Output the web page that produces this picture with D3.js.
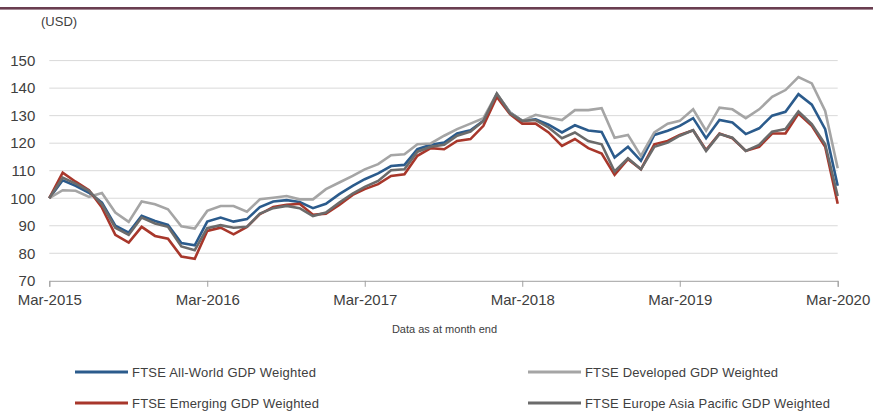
<!DOCTYPE html>
<html>
<head>
<meta charset="utf-8">
<script src="https://cdn.jsdelivr.net/npm/d3@7"></script>
<style>
  body { margin: 0; background: #fff; font-family: "Liberation Sans", Arial, sans-serif; }
  svg text { fill: #404040; }
</style>
</head>
<body>
<div id="chart"></div>
<script>
// monthly index values, Mar-2015 .. Mar-2020 (61 points)
const startMonth = new Date(2015, 2, 1), endMonth = new Date(2020, 2, 1);
const months = d3.timeMonth.range(startMonth, d3.timeMonth.offset(endMonth, 1));

const allWorld = [100, 106.5, 104.5, 102, 98.4, 90, 87.5, 93.6, 91.7, 90.3,
  83.7, 82.9, 91.5, 93, 91.5, 92.4, 96.8, 98.8, 99.3, 98.6,
  96.4, 98, 101.5, 104.5, 106.9, 109, 111.7, 112.1, 117.8, 119.4,
  120.2, 123.5, 124.7, 128.1, 137.8, 131.1, 128.1, 128.7, 126.7, 123.9,
  126.5, 124.6, 124.1, 114.8, 118.7, 113.6, 123, 124.5, 126.3, 129.1,
  121.8, 128.4, 127.5, 123.3, 125.4, 130, 131.4, 137.8, 134, 125.1, 104.5];

const developed = [100, 102.9, 102.7, 100.5, 101.9, 94.8, 91.4, 98.8, 97.8, 96,
  89.8, 89, 95.4, 97.2, 97.2, 95.1, 99.6, 100.2, 100.8, 99.6,
  99.6, 103.3, 105.7, 108.1, 110.5, 112.4, 115.6, 116, 119.6, 119.9,
  122.7, 125.1, 127.1, 129.1, 138, 131.1, 128.1, 130.3, 129.3, 128.4,
  132, 132, 132.7, 122, 123, 115.4, 123.9, 127.1, 128.1, 132.3,
  124.5, 132.9, 132.3, 129.1, 132.3, 136.8, 139.3, 144, 141.7, 131.7, 110.9];

const emerging = [100, 109.3, 106, 102.9, 96.6, 86.7, 83.9, 89.6, 86.3, 85.3,
  78.8, 78, 88.1, 89.3, 86.9, 89.6, 94.2, 96.8, 97.6, 98,
  94, 94.4, 97.6, 101.2, 103.3, 105.1, 108.1, 108.7, 115.4, 118.2,
  117.8, 120.8, 121.5, 126.3, 136.8, 130.5, 127.1, 127.1, 123.9, 119,
  121.5, 118.2, 116.2, 108.5, 114.2, 110.5, 119.6, 120.8, 123, 124.7,
  117.5, 123.5, 121.8, 117.2, 118.7, 123.5, 123.5, 130.8, 126.3, 118.7, 98];

const europeAsiaPacific = [100, 107.5, 105.3, 102.7, 97.8, 89.3, 86.7, 93, 90.8, 89.6,
  82.5, 81.1, 89.1, 90.2, 89.3, 89.6, 94.4, 96.4, 97.2, 96.4,
  93.5, 94.8, 98.4, 101.7, 104.1, 106.3, 110.2, 110.5, 116.9, 118.7,
  119.4, 122.7, 124.2, 128.1, 138, 130.8, 128.1, 128.4, 125.7, 121.8,
  123.9, 120.8, 119.6, 109.7, 114.5, 110.5, 118.7, 120.2, 122.7, 124.7,
  117.2, 123.3, 122, 117.2, 119.4, 124.2, 125.1, 131.5, 126.9, 119.6, 100.8];

const seriesNames = ["FTSE All-World GDP Weighted", "FTSE Developed GDP Weighted",
  "FTSE Emerging GDP Weighted", "FTSE Europe Asia Pacific GDP Weighted"];
const seriesColors = ["#2b5b8c", "#a5a5a5", "#a8372b", "#6b6b6b"];
const yTicks = [70, 80, 90, 100, 110, 120, 130, 140, 150];
const xTicks = ["Mar-2015", "Mar-2016", "Mar-2017", "Mar-2018", "Mar-2019", "Mar-2020"];

const width = 873, height = 412;
const plotLeft = 49.3, plotRight = 837.7, plotTop = 60.6, plotBottom = 280.8;

const svg = d3.select("#chart")
  .append("svg")
    .attr("width", width)
    .attr("height", height);

// maroon rule at the top
svg.append("rect")
  .attr("x", 0).attr("y", 7)
  .attr("width", width).attr("height", 2.6)
  .attr("fill", "#6a3d50");

const parseTick = d3.timeParse("%b-%Y");
const x = d3.scaleTime()
  .domain([startMonth, endMonth])
  .range([plotLeft, plotRight]);
const y = d3.scaleLinear()
  .domain([70, 150])
  .range([plotBottom, plotTop]);

// gridlines
svg.append("g")
  .selectAll("line")
  .data(yTicks.slice(1))
  .enter()
  .append("line")
    .attr("x1", plotLeft).attr("x2", plotRight)
    .attr("y1", d => y(d)).attr("y2", d => y(d))
    .attr("stroke", "#d9d9d9")
    .attr("stroke-width", 1);

// y axis labels
const yAxis = svg.append("g")
  .attr("transform", "translate(" + plotLeft + ",0)")
  .call(d3.axisLeft(y).tickValues(yTicks).tickSize(0).tickPadding(14));
yAxis.select(".domain").remove();
yAxis.selectAll("text")
  .attr("font-size", 15)
  .attr("font-family", "Liberation Sans, Arial, sans-serif");

// x axis
const xAxis = svg.append("g")
  .attr("transform", "translate(0," + plotBottom + ")")
  .call(d3.axisBottom(x)
    .tickValues(xTicks.map(parseTick))
    .tickFormat(d3.timeFormat("%b-%Y"))
    .tickSize(6)
    .tickPadding(8));
xAxis.select(".domain").attr("stroke", "#a0a0a0");
xAxis.selectAll(".tick line").attr("stroke", "#a0a0a0");
xAxis.selectAll("text")
  .attr("font-size", 15)
  .attr("font-family", "Liberation Sans, Arial, sans-serif");

svg.append("text")
  .attr("x", 41).attr("y", 26)
  .attr("font-size", 13)
  .text("(USD)");

svg.append("text")
  .attr("x", (plotLeft + plotRight) / 2 + 1).attr("y", 333)
  .attr("text-anchor", "middle")
  .attr("font-size", 11)
  .text("Data as at month end");

// lines
const allSeries = [allWorld, developed, emerging, europeAsiaPacific];
const line = d3.line()
  .x((d, i) => x(months[i]))
  .y(d => y(d));

svg.append("g")
  .selectAll("path")
  .data(allSeries)
  .enter()
  .append("path")
    .attr("d", d => line(d))
    .attr("fill", "none")
    .attr("stroke", (d, i) => seriesColors[i])
    .attr("stroke-width", 2.6)
    .attr("stroke-linejoin", "miter");

// legend
const legendX = [75, 528], legendY = [372, 403];
const legend = svg.append("g")
  .selectAll("g")
  .data(seriesNames)
  .enter()
  .append("g")
    .attr("transform", (d, i) => "translate(" + legendX[i % 2] + "," + legendY[Math.floor(i / 2)] + ")");
legend.append("line")
  .attr("x1", 0).attr("x2", 53)
  .attr("stroke", (d, i) => seriesColors[i])
  .attr("stroke-width", 3);
legend.append("text")
  .attr("x", 57).attr("dy", "0.35em")
  .attr("font-size", 13)
  .attr("textLength", (d, i) => [184, 193, 187, 245][i])
  .text(d => d);
</script>
</body>
</html>
